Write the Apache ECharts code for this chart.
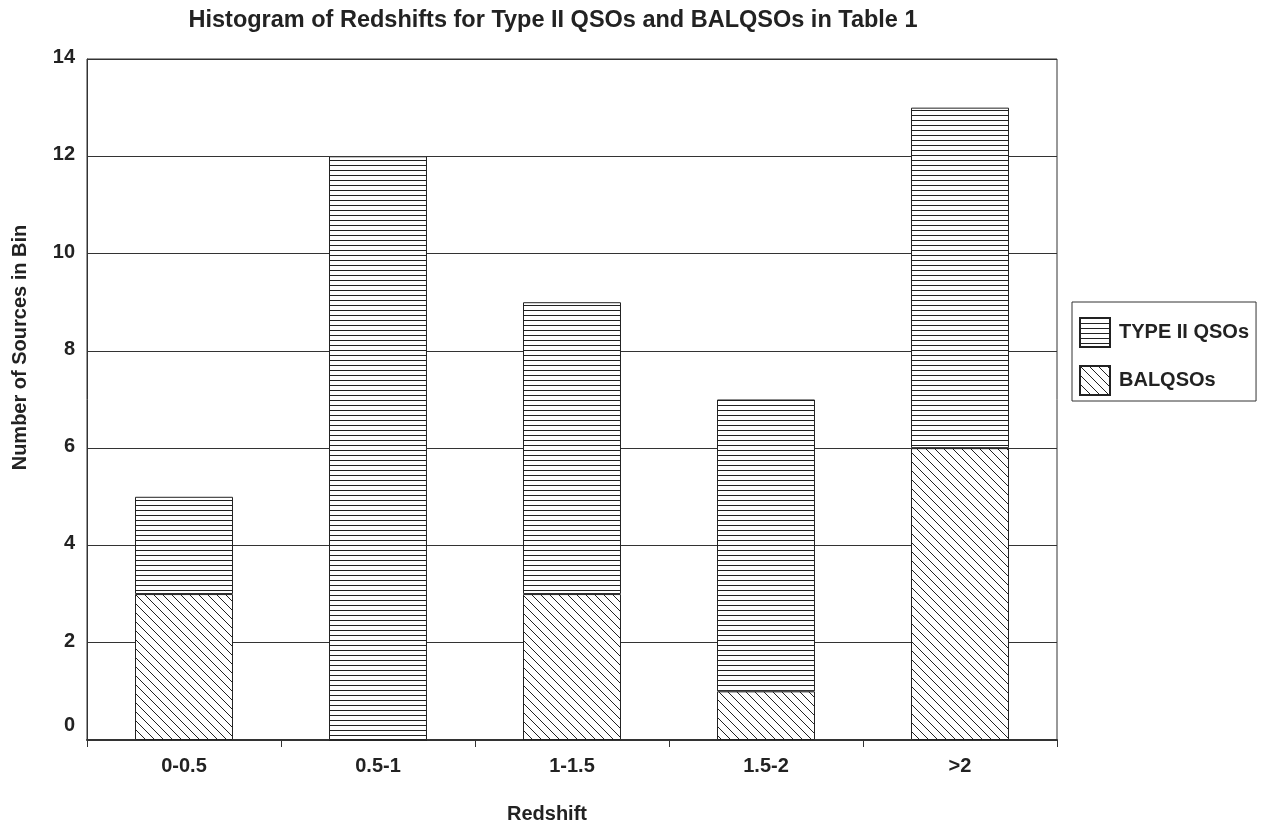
<!DOCTYPE html>
<html><head><meta charset="utf-8">
<script src="https://cdn.jsdelivr.net/npm/echarts@6/dist/echarts.min.js"></script>
<style>html,body{margin:0;padding:0;background:#fff}#c{width:1267px;height:831px}</style>
</head><body><div id="c"></div>
<script>
const categories = ['0-0.5', '0.5-1', '1-1.5', '1.5-2', '>2'];
const balqsos = [3, 0, 3, 1, 6];
const type2 = [2, 12, 6, 6, 7];
const yTicks = [0, 2, 4, 6, 8, 10, 12, 14];

function makePattern(kind) {
  const s = kind === 'h' ? 5 : 9;
  const c = document.createElement('canvas');
  c.width = s; c.height = s;
  const g = c.getContext('2d');
  g.fillStyle = '#fff'; g.fillRect(0, 0, s, s);
  g.strokeStyle = '#222'; g.lineWidth = 1;
  g.beginPath();
  if (kind === 'h') {
    g.moveTo(0, 0.5); g.lineTo(s, 0.5);
  } else {
    for (const o of [-s, 0, s]) { g.moveTo(o - 1, -1); g.lineTo(o + s + 1, s + 1); }
  }
  g.stroke();
  return { image: c, repeat: 'repeat' };
}
const hPat = makePattern('h');
const dPat = makePattern('d');

const font = 'Liberation Sans, Arial, sans-serif';
const txt = { fontFamily: font, fontSize: 20, fontWeight: 'bold', color: '#222' };
const chart = echarts.init(document.getElementById('c'), null, { renderer: 'canvas' });
chart.setOption({
  animation: false,
  backgroundColor: '#fff',
  title: {
    text: 'Histogram of Redshifts for Type II QSOs and BALQSOs in Table 1',
    left: 548, textAlign: 'center', top: 4,
    textStyle: Object.assign({}, txt, { fontSize: 23.5 })
  },
  legend: {
    orient: 'vertical', left: 1072, top: 302,
    padding: [15, 7, 5, 7], itemGap: 17,
    itemWidth: 30, itemHeight: 29,
    icon: 'rect',
    borderColor: '#333', borderWidth: 1,
    data: ['TYPE II QSOs', 'BALQSOs'],
    textStyle: Object.assign({}, txt, { padding: [0, 0, 0, 4] })
  },
  grid: { left: 87, top: 59, right: 210, bottom: 91, show: true, borderColor: '#333', borderWidth: 1 },
  xAxis: {
    type: 'category', data: categories,
    name: 'Redshift', nameLocation: 'middle', nameGap: 64,
    nameTextStyle: Object.assign({}, txt, { padding: [0, 50, 0, 0] }),
    axisLine: { lineStyle: { color: '#333', width: 2 } },
    axisTick: { show: true, alignWithLabel: false, length: 7, lineStyle: { color: '#333' } },
    axisLabel: Object.assign({}, txt, { margin: 16 })
  },
  yAxis: {
    type: 'value', min: 0, max: 14, interval: 2,
    name: 'Number of Sources in Bin', nameLocation: 'middle', nameGap: 57, nameRotate: 90,
    nameTextStyle: Object.assign({}, txt, { padding: [0, 0, 0, 104] }),
    axisLine: { show: true, lineStyle: { color: '#333' } },
    axisTick: { show: false },
    splitLine: { lineStyle: { color: '#333', width: 1 } },
    axisLabel: Object.assign({}, txt, {
      margin: 12,
      formatter: v => (yTicks.includes(v) ? (v === 0 ? '{z|0}' : '{n|' + v + '}') : ''),
      rich: {
        n: Object.assign({}, txt, { padding: [0, 0, 3, 0] }),
        z: Object.assign({}, txt, { padding: [0, 0, 30, 0] })
      }
    })
  },
  series: [
    {
      name: 'BALQSOs', type: 'bar', stack: 'a', data: balqsos, barWidth: '50.5%',
      itemStyle: { color: dPat, borderColor: '#222', borderWidth: 1 }
    },
    {
      name: 'TYPE II QSOs', type: 'bar', stack: 'a', data: type2, barWidth: '50.5%',
      itemStyle: { color: hPat, borderColor: '#222', borderWidth: 1 }
    }
  ]
});
</script></body></html>
